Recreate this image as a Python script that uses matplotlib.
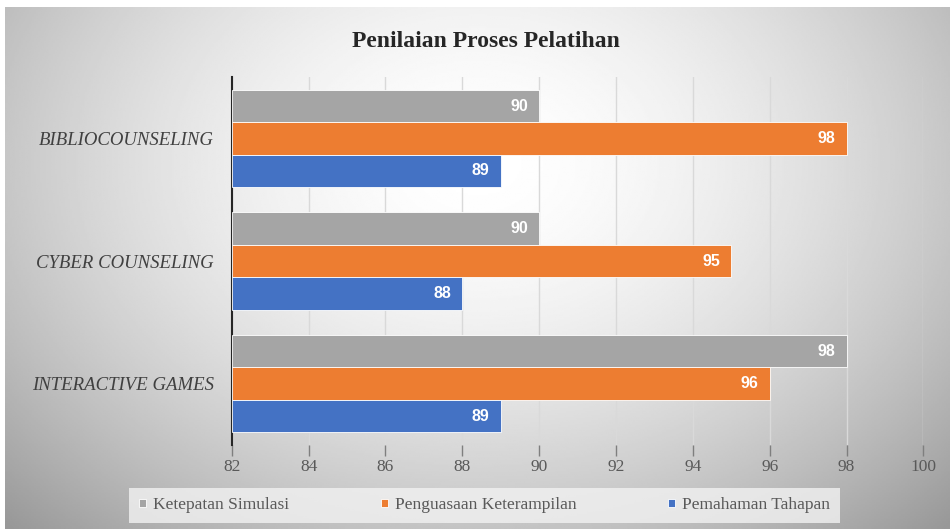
import numpy as np
import matplotlib.pyplot as plt

plt.rcParams['font.family'] = ['Liberation Serif', 'DejaVu Serif']

categories = ['INTERACTIVE GAMES', 'CYBER COUNSELING', 'BIBLIOCOUNSELING']
series_names = ['Ketepatan Simulasi', 'Penguasaan Keterampilan', 'Pemahaman Tahapan']
ketepatan = [98, 90, 90]
penguasaan = [96, 95, 98]
pemahaman = [89, 88, 89]
x_ticks = [82, 84, 86, 88, 90, 92, 94, 96, 98, 100]

colors = ['#A5A5A5', '#ED7D31', '#4472C4']

fig = plt.figure(figsize=(9.5, 5.29), dpi=100)

# radial gray background
bg = fig.add_axes([0.005, 0, 0.995, 0.987], zorder=-5)
yy, xx = np.mgrid[0:1:300j, 0:1:500j]
r = np.sqrt(((xx - 0.5) / 0.55) ** 2 + ((yy - 0.3) / 0.75) ** 2)
val = 1.0 - 0.26 * np.clip(r, 0, 1.3) ** 1.7
bg.imshow(val, cmap='gray', vmin=0, vmax=1, aspect='auto', extent=[0, 1, 1, 0])
bg.axis('off')

ax = fig.add_axes([0.244, 0.159, 0.728, 0.695])
ax.set_facecolor('none')

y = np.arange(len(categories))
h = 0.265
for vals, off, c, name in zip([ketepatan, penguasaan, pemahaman], [h, 0, -h], colors, series_names):
    bars = ax.barh(y + off, [v - 82 for v in vals], left=82, height=h,
                   color=c, label=name, edgecolor='white', linewidth=0.6, zorder=3)
    for b, v in zip(bars, vals):
        ax.annotate(str(v), (v, b.get_y() + b.get_height() / 2), xytext=(-8, 0),
                    textcoords='offset points', ha='right', va='center',
                    color='white', fontweight='bold', fontsize=11.5,
                    family=['Liberation Sans', 'DejaVu Sans'], zorder=4)

ax.set_xlim(82, 100)
ax.set_ylim(-0.5, 2.5)
ax.set_xticks(x_ticks)
ax.set_yticks(y)
ax.set_yticklabels(categories, fontstyle='italic', fontsize=13.5, color='#404040')
ax.xaxis.grid(True, color='#d9d9d9', linewidth=1, zorder=0)
ax.tick_params(axis='x', length=8, width=1, color='#7f7f7f', labelsize=12.5,
               labelcolor='#595959', pad=2)
ax.tick_params(axis='y', length=0, pad=13)
for s in ['top', 'right', 'bottom']:
    ax.spines[s].set_visible(False)
ax.spines['left'].set_color('#262626')
ax.spines['left'].set_linewidth(1.5)

fig.text(0.512, 0.922, 'Penilaian Proses Pelatihan', ha='center', va='center',
         fontsize=17, fontweight='bold', color='#262626')

leg = fig.legend(loc='center', bbox_to_anchor=(0.51, 0.045), ncol=3, frameon=True,
                 facecolor='#f2f2f2', edgecolor='none', fontsize=12.5,
                 handlelength=0.4, handleheight=0.4, handletextpad=0.4,
                 columnspacing=5.3, borderpad=0.55, fancybox=False)
for t in leg.get_texts():
    t.set_color('#595959')

fig.savefig('out.png', dpi=100)
